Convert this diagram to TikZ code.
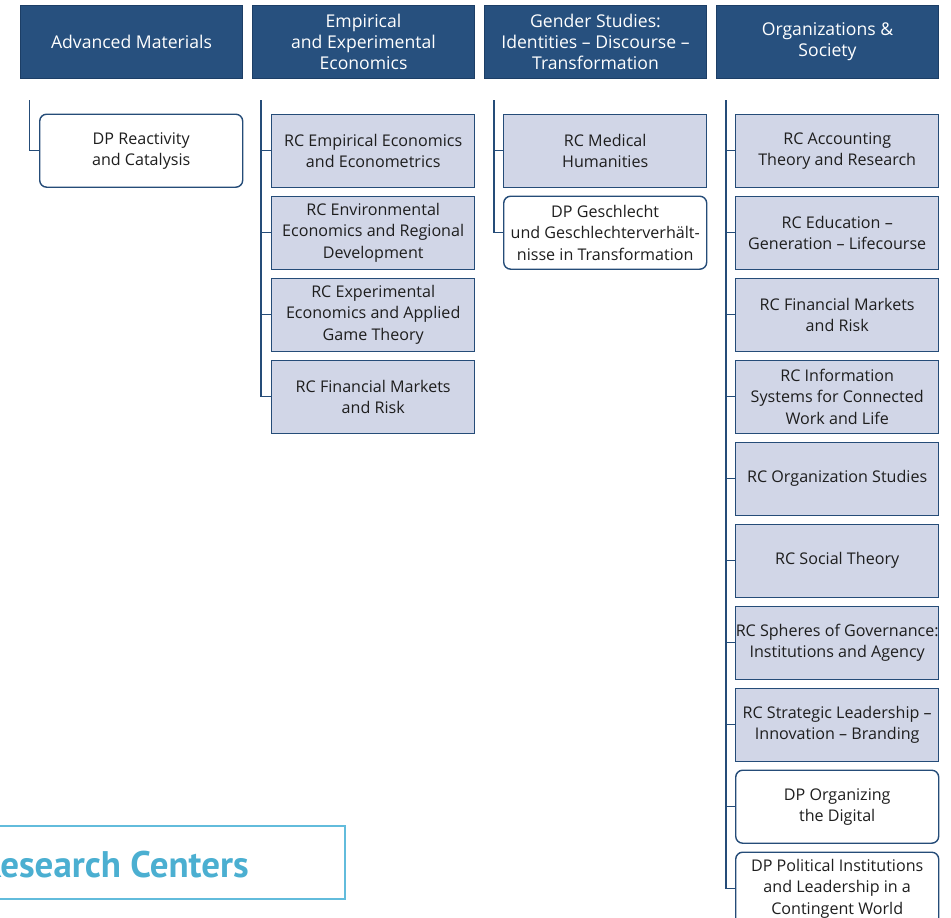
\documentclass[tikz,border=0pt]{standalone}
\usepackage{fontspec}
\setmainfont{Open Sans}
\newfontfamily\titlefont{PT Sans}
\definecolor{hdrblue}{HTML}{27507E}
\definecolor{hdrline}{HTML}{1C3E66}
\definecolor{lineblue}{HTML}{254C78}
\definecolor{rcfill}{HTML}{D1D6E7}
\definecolor{bodytext}{HTML}{1E1E1E}
\definecolor{titleblue}{HTML}{4BAFD1}
\definecolor{titleline}{HTML}{62BCDC}
\begin{document}
\begin{tikzpicture}[x=1pt,y=-1pt,
  hdr/.style={draw=hdrline, fill=hdrblue, text=white, line width=1pt,
    minimum width=222pt, minimum height=73pt, inner sep=0pt, align=center,
    anchor=north west, font=\fontsize{17.6}{21}\selectfont},
  rcbox/.style={draw=lineblue, fill=rcfill, text=bodytext, line width=1.4pt,
    minimum width=203pt, minimum height=73pt, inner sep=0pt, align=center,
    anchor=north west, font=\fontsize{16.1}{21.3}\selectfont},
  dpbox/.style={rcbox, fill=white, rounded corners=7pt},
  conn/.style={draw=lineblue, line width=1.4pt},
  titletext/.style={text=titleblue, font=\titlefont\fontsize{37}{40}\selectfont\bfseries, inner sep=0pt, anchor=base east},
  titleframe/.style={draw=titleline, line width=1.3pt}
]
\useasboundingbox (0,0) rectangle (951,918);
\clip (0,0) rectangle (951,918);

% headers
\node[hdr] (h1) at (20,4.5) {Advanced Materials};
\node[hdr] (h2) at (252,4.5) {Empirical\\and Experimental\\Economics};
\node[hdr] (h3) at (484,4.5) {Gender Studies:\\Identities -- Discourse --\\Transformation};
\node[hdr] (h4) at (716,4.5) {Organizations \&\\Society};

% column 1
\coordinate (t1) at (29.5,100);
\node[dpbox] (a1) at (39,113.5) {DP Reactivity\\and Catalysis};
\draw[conn] (t1) |- (a1.west);

% column 2
\coordinate (t2) at (261,100);
\node[rcbox] (b1) at (271,113.5) {RC Empirical Economics\\and Econometrics};
\node[rcbox] (b2) at (271,195.5) {RC Environmental\\Economics and Regional\\Development};
\node[rcbox] (b3) at (271,277.5) {RC Experimental\\Economics and Applied\\Game Theory};
\node[rcbox] (b4) at (271,359.5) {RC Financial Markets\\and Risk};
\foreach \n in {b1,b2,b3,b4} \draw[conn] (t2) |- (\n.west);

% column 3
\coordinate (t3) at (494,100);
\node[rcbox] (c1) at (503,113.5) {RC Medical\\Humanities};
\node[dpbox] (c2) at (503,195.5) {DP Geschlecht\\und Geschlechterverhält-\\nisse in Transformation};
\foreach \n in {c1,c2} \draw[conn] (t3) |- (\n.west);

% column 4
\coordinate (t4) at (726,100);
\node[rcbox] (d1) at (735,113.5) {RC Accounting\\Theory and Research};
\node[rcbox] (d2) at (735,195.5) {RC Education --\\Generation -- Lifecourse};
\node[rcbox] (d3) at (735,277.5) {RC Financial Markets\\and Risk};
\node[rcbox] (d4) at (735,359.5) {RC Information\\Systems for Connected\\Work and Life};
\node[rcbox] (d5) at (735,441.5) {RC Organization Studies};
\node[rcbox] (d6) at (735,523.5) {RC Social Theory};
\node[rcbox] (d7) at (735,605.5) {RC Spheres of Governance:\\Institutions and Agency};
\node[rcbox] (d8) at (735,687.5) {RC Strategic Leadership --\\Innovation -- Branding};
\node[dpbox] (d9) at (735,769.5) {DP Organizing\\the Digital};
\node[dpbox] (d10) at (735,851.5) {DP Political Institutions\\and Leadership in a\\Contingent World};
\foreach \n in {d1,d2,d3,d4,d5,d6,d7,d8,d9,d10} \draw[conn] (t4) |- (\n.west);

% title box (cut at the left edge)
\draw[titleframe] (-130,826) rectangle (345,899);
\node[titletext] (title) at (249,877) {Research Centers};
\end{tikzpicture}
\end{document}
